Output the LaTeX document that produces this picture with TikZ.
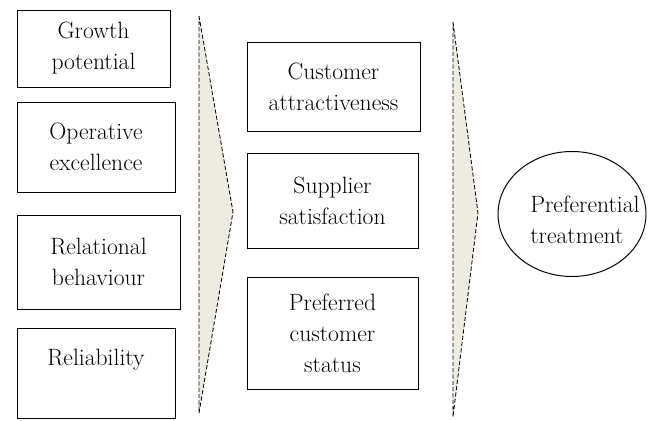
\documentclass[tikz,border=0pt]{standalone}
\usetikzlibrary{shapes.geometric}
\definecolor{chevfill}{HTML}{EEECE1}
\begin{document}
\begin{tikzpicture}[font=\fontsize{16.8}{22}\selectfont,
	box/.style={rectangle, draw, line width=0.7pt, align=center, inner sep=0pt},
	chevron/.style={draw=black, fill=chevfill, dashed, dash pattern=on 3pt off 1.5pt, line width=0.6pt}]
	\useasboundingbox (0,0) rectangle (16.5,10.5);
	\fill[white] (0,0) rectangle (16.5,10.5);
	\draw[chevron] (4.975,10.1) -- (5.825,5.2) -- (4.975,0.175) -- cycle;
	\draw[chevron] (11.325,9.95) -- (11.95,5.175) -- (11.325,0.075) -- cycle;
	\node (GP) at (2.3375, 9.2875)	[box, minimum width=3.825cm, minimum height=1.925cm]	{Growth\\potential};
	\node (OE) at (2.4,    6.825)	[box, minimum width=3.95cm,  minimum height=2.25cm]	{Operative\\excellence};
	\node (RB) at (2.4625, 3.95)	[box, minimum width=4.075cm, minimum height=2.35cm]	{Relational\\behaviour};
	\node (RL) at (2.4,    1.175)	[box, minimum width=3.95cm,  minimum height=2.25cm]	{Reliability\\~};
	\node (CA) at (8.3375, 8.3375)	[box, minimum width=4.325cm, minimum height=2.225cm]	{Customer\\attractiveness};
	\node (SS) at (8.3125, 5.4875)	[box, minimum width=4.275cm, minimum height=2.375cm]	{Supplier\\satisfaction};
	\node (PC) at (8.3125, 2.175)	[box, minimum width=4.275cm, minimum height=2.8cm]	{Preferred\\customer\\status};
	\node (PT) at (14.3,   5.15)	[ellipse, draw, line width=0.7pt, minimum width=3.7cm, minimum height=3.125cm]	{};
	\node (PTtext) at (13.25, 5.0)	[anchor=west, align=left, inner sep=0pt]	{Preferential\\treatment};
\end{tikzpicture}
\end{document}
